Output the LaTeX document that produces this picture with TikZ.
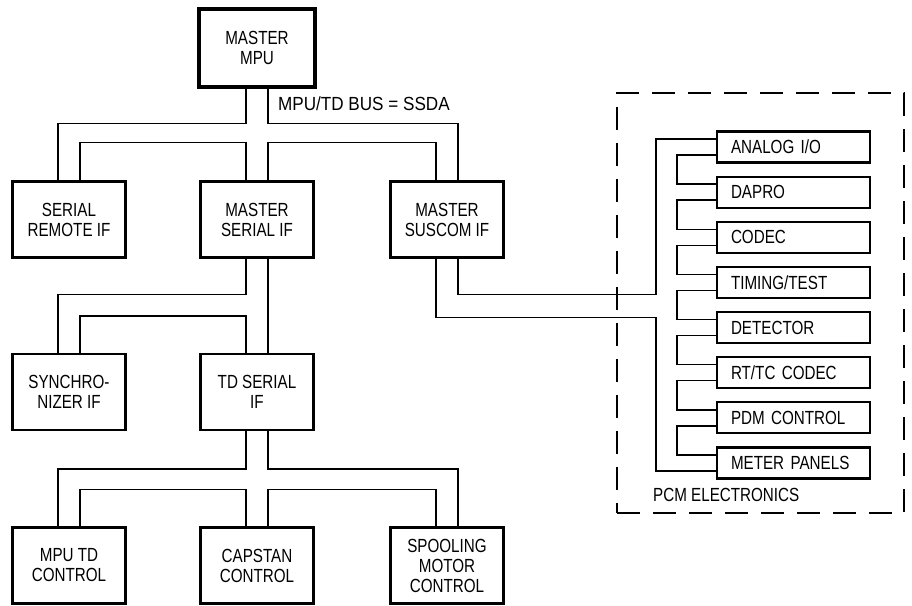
\documentclass[tikz,border=0pt]{standalone}
\usepackage{fontspec}
\setmainfont{Liberation Sans}[FakeStretch=0.8]
\newfontfamily\widerfont{Liberation Sans}[FakeStretch=0.9]
\begin{document}
\begin{tikzpicture}[x=1pt,y=-1pt,
  txt/.style={font=\fontsize{19}{20}\selectfont},
  blk/.style={draw, line width=2.2pt, minimum width=113pt, minimum height=76pt, align=center, inner sep=2pt, txt},
  card/.style={draw, line width=2.2pt, minimum width=153pt, minimum height=31pt, text width=125pt, inner xsep=14pt, inner ysep=0pt, align=left, txt},
  bus/.style={line width=1.4pt},
  grp/.style={draw, line width=1.6pt, dash pattern=on 23pt off 13pt, minimum width=287pt, minimum height=420pt, inner sep=0pt}]
\useasboundingbox (0,0) rectangle (912,605);
% main blocks
\node[blk, line width=3.2pt, minimum width=116pt, minimum height=78pt] (mpu) at (257,48) {MASTER\\MPU};
\node[blk] (srif)  at (69,219.5)  {SERIAL\\REMOTE IF};
\node[blk] (msif)  at (257,219.5) {MASTER\\SERIAL IF};
\node[blk] (mscom) at (447,219.5) {MASTER\\SUSCOM IF};
\node[blk] (sync)  at (69,392)    {SYNCHRO-\\NIZER IF};
\node[blk] (tdsi)  at (257,392)   {TD SERIAL\\IF};
\node[blk] (mpuc)  at (69,565.5)  {MPU TD\\CONTROL};
\node[blk] (cap)   at (257,565.5) {CAPSTAN\\CONTROL};
\node[blk] (spool) at (447,565.5) {SPOOLING\\MOTOR\\CONTROL};
\node[font=\widerfont\fontsize{19}{20}\selectfont, anchor=west, inner sep=0pt] (buslbl) at (278,104) {MPU/TD BUS = SSDA};
% PCM electronics group
\node[grp] (pcm) at (760.5,303) {};
\node[txt, anchor=west, inner sep=0pt] (pcmlbl) at (653,495) {PCM ELECTRONICS};
\node[card] (c1) at (793.5,147)    {ANALOG I/O};
\node[card] (c2) at (793.5,192.14) {DAPRO};
\node[card] (c3) at (793.5,237.28) {CODEC};
\node[card] (c4) at (793.5,282.42) {TIMING/TEST};
\node[card] (c5) at (793.5,327.56) {DETECTOR};
\node[card] (c6) at (793.5,372.70) {RT/TC CODEC};
\node[card] (c7) at (793.5,417.84) {PDM CONTROL};
\node[card] (c8) at (793.5,462.98) {METER PANELS};
% bus from master MPU
\draw[bus] ([xshift=-11pt]mpu.south) -- ++(0,35) -| ([xshift=-11pt]srif.north);
\draw[bus] ([xshift=11pt]srif.north) -- ++(0,-38) -| ([xshift=-11pt]msif.north);
\draw[bus] ([xshift=11pt]mpu.south) -- ++(0,35) -| ([xshift=11pt]mscom.north);
\draw[bus] ([xshift=11pt]msif.north) -- ++(0,-38) -| ([xshift=-11pt]mscom.north);
% bus from master serial IF
\draw[bus] ([xshift=-11pt]msif.south) -- ++(0,36) -| ([xshift=-11pt]sync.north);
\draw[bus] ([xshift=11pt]sync.north) -- ++(0,-37) -| ([xshift=-11pt]tdsi.north);
\draw[bus] ([xshift=11pt]msif.south) -- ([xshift=11pt]tdsi.north);
% bus from TD serial IF
\draw[bus] ([xshift=-11pt]tdsi.south) -- ++(0,38) -| ([xshift=-11pt]mpuc.north);
\draw[bus] ([xshift=11pt]tdsi.south) -- ++(0,38) -| ([xshift=11pt]spool.north);
\draw[bus] ([xshift=11pt]mpuc.north) -- ++(0,-37) -| ([xshift=-11pt]cap.north);
\draw[bus] ([xshift=-11pt]spool.north) -- ++(0,-37) -| ([xshift=11pt]cap.north);
% bus from master suscom IF to PCM electronics
\draw[bus] ([xshift=11pt]mscom.south) -- ++(0,36) -- ++(198,0) |- ([yshift=8pt]c1.west);
\draw[bus] ([xshift=-11pt]mscom.south) -- ++(0,59) -- ++(220,0) |- ([yshift=-8pt]c8.west);
% daisy chain between cards
\foreach \a/\b in {c1/c2,c2/c3,c3/c4,c4/c5,c5/c6,c6/c7,c7/c8}
  \draw[bus] ([yshift=-8pt]\a.west) -- ++(-39,0) |- ([yshift=8pt]\b.west);
\end{tikzpicture}
\end{document}
